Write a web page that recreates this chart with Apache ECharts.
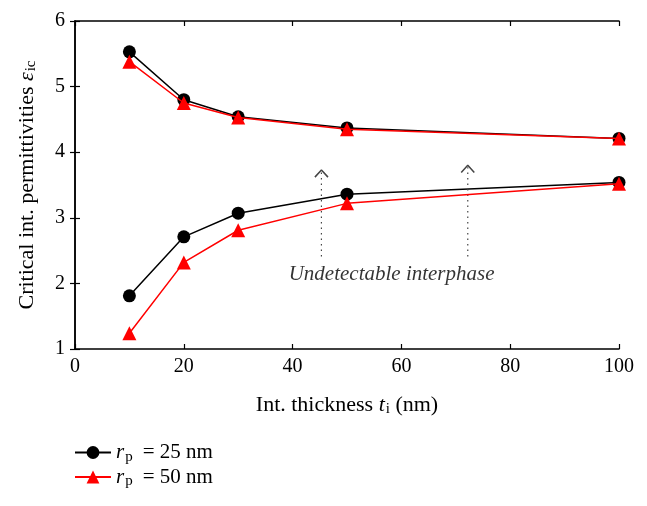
<!DOCTYPE html>
<html><head><meta charset="utf-8">
<script src="https://cdn.jsdelivr.net/npm/echarts@6/dist/echarts.min.js"></script>
<style>html,body{margin:0;padding:0;background:#fff}#c{width:647px;height:506px}</style>
</head><body><div id="c"></div>
<script>
const thickness = [10, 20, 30, 50, 100];
const upper25 = [5.53, 4.80, 4.54, 4.37, 4.21];
const upper50 = [5.38, 4.75, 4.53, 4.35, 4.21];
const lower25 = [1.81, 2.71, 3.07, 3.36, 3.54];
const lower50 = [1.24, 2.32, 2.81, 3.22, 3.52];
const arrowX = [45.3, 72.2];
const arrowBottom = [2.41, 2.41];
const arrowTop = [3.70, 3.77];
const xTicks = [0, 20, 40, 60, 80, 100];
const yTicks = [1, 2, 3, 4, 5, 6];
const noteText = 'Undetectable interphase';
const noteX = 58.2, noteY = 2.13;

const FONT = 'Liberation Serif';
const pairs = (xs, ys) => xs.map((x, i) => [x, ys[i]]);

const series = [];
function mainSeries(name, ys, color, symbol, size) {
  return {
    name, type: 'line', data: pairs(thickness, ys), symbol, symbolSize: size,
    lineStyle: { color, width: 1.5 }, itemStyle: { color }, z: symbol === 'triangle' ? 4 : 3,
    animation: false
  };
}
series.push(mainSeries('rp25', upper25, '#000', 'circle', 13));
series.push(mainSeries('rp25', lower25, '#000', 'circle', 13));
series.push(mainSeries('rp50', upper50, '#ff0000', 'triangle', 14));
series.push(mainSeries('rp50', lower50, '#ff0000', 'triangle', 14));

arrowX.forEach((x, i) => {
  series.push({
    type: 'line', data: [[x, arrowBottom[i]], [x, arrowTop[i]]], symbol: 'none',
    lineStyle: { color: '#444', width: 1.2, type: [1.5, 4] }, animation: false, silent: true
  });
  const hw = 1.2, hh = 0.11, tip = arrowTop[i] + 0.03;
  series.push({
    type: 'line', data: [[x - hw, tip - hh], [x, tip], [x + hw, tip - hh]], symbol: 'none',
    lineStyle: { color: '#444', width: 1.5 }, animation: false, silent: true
  });
});
series.push({
  type: 'scatter', data: [[noteX, noteY]], symbolSize: 0, silent: true, animation: false,
  label: { show: true, position: 'inside', formatter: noteText, fontFamily: FONT,
    fontStyle: 'italic', fontSize: 21, color: '#000' }
});

const chart = echarts.init(document.getElementById('c'), null, { renderer: 'canvas' });
const axisLine = { show: true, lineStyle: { color: '#000', width: 1.5 } };
const tick = { show: true, inside: true, length: 5, lineStyle: { color: '#000', width: 1.2 } };
const richTitle = {
  n: { fontFamily: FONT, fontSize: 22, color: '#000' },
  i: { fontFamily: FONT, fontSize: 22, fontStyle: 'italic', color: '#000' },
  s: { fontFamily: FONT, fontSize: 15, color: '#000', padding: [9, 0, 0, 1] }
};
chart.setOption({
  backgroundColor: '#fff',
  animation: false,
  grid: { left: 75, right: 28, top: 21, bottom: 157 },
  xAxis: [{
    type: 'value', min: xTicks[0], max: xTicks[xTicks.length - 1], interval: 20,
    axisLine, axisTick: tick, splitLine: { show: false },
    axisLabel: { fontFamily: FONT, fontSize: 20, color: '#000', margin: 8 },
    name: '{n|Int. thickness }{i|t}{s|i}{n| (nm)}', nameLocation: 'middle', nameGap: 44,
    nameTextStyle: { rich: richTitle }
  }, {
    type: 'value', position: 'top', min: xTicks[0], max: xTicks[xTicks.length - 1], interval: 20,
    axisLine, axisTick: tick, axisLabel: { show: false }, splitLine: { show: false }
  }],
  yAxis: [{
    type: 'value', min: yTicks[0], max: yTicks[yTicks.length - 1], interval: 1,
    axisLine, axisTick: tick, splitLine: { show: false },
    axisLabel: { fontFamily: FONT, fontSize: 20, color: '#000', margin: 10 },
    name: '{n|Critical int. permittivities }{i|ε}{s|ic}', nameLocation: 'middle', nameGap: 36,
    nameRotate: 90,
    nameTextStyle: { rich: richTitle }
  }, {
    type: 'value', position: 'right', min: yTicks[0], max: yTicks[yTicks.length - 1], interval: 1,
    axisLine, axisTick: tick, axisLabel: { show: false }, splitLine: { show: false }
  }],
  legend: {
    data: ['rp25', 'rp50'], orient: 'vertical', left: 69, top: 437, itemGap: 2,
    itemWidth: 36, itemHeight: 16, selectedMode: false,
    formatter: n => n === 'rp25' ? '{i|r}{s|p}{n|= 25 nm}' : '{i|r}{s|p}{n|= 50 nm}',
    textStyle: { rich: {
      n: { fontFamily: FONT, fontSize: 21, color: '#000' },
      i: { fontFamily: FONT, fontSize: 21, fontStyle: 'italic', color: '#000' },
      s: { fontFamily: FONT, fontSize: 15, color: '#000', padding: [9, 10, 0, 1] }
    } }
  },
  series
});
</script></body></html>
